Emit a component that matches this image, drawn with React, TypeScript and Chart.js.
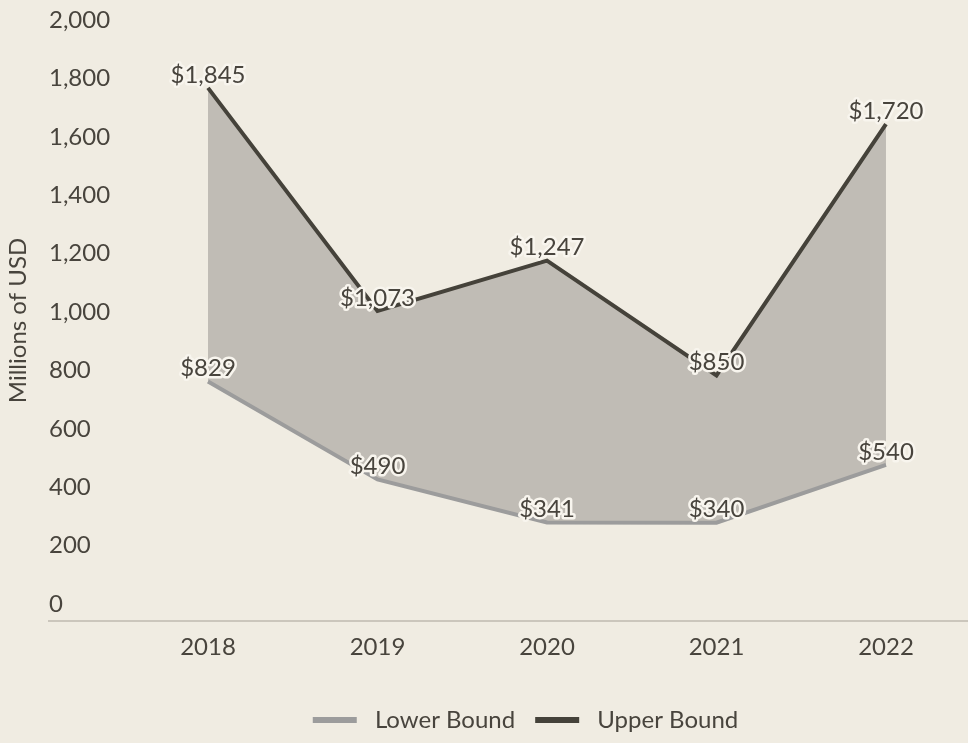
import React, { useEffect, useRef } from 'react';
import { Chart, registerables } from 'chart.js';

Chart.register(...registerables);

const categories = ['2018', '2019', '2020', '2021', '2022'];
const lowerBound = [829, 490, 341, 340, 540];
const upperBound = [1845, 1073, 1247, 850, 1720];
const yTickValues = [0, 200, 400, 600, 800, 1000, 1200, 1400, 1600, 1800, 2000];
const seriesNames = ['Lower Bound', 'Upper Bound'];

const BG = '#f0ece2';
const TEXT = '#48443d';
const LOWER_COLOR = '#9c9c9c';
const UPPER_COLOR = '#45423a';
const FILL_COLOR = '#c0bcb5';
const FONT_FAMILY = 'Lato, sans-serif';
const FONT_SIZE = 24;

const dataLabelPlugin = {
  id: 'dataLabels',
  afterDatasetsDraw(chart: any) {
    const ctx = chart.ctx;
    ctx.save();
    ctx.font = `${FONT_SIZE}px ${FONT_FAMILY}`;
    ctx.textAlign = 'center';
    ctx.textBaseline = 'middle';
    ctx.lineJoin = 'round';
    chart.data.datasets.forEach((ds: any, di: number) => {
      const meta = chart.getDatasetMeta(di);
      meta.data.forEach((pt: any, i: number) => {
        const v = ds.data[i].y;
        const text = '$' + v.toLocaleString('en-US');
        const x = pt.x;
        const y = pt.y - 13;
        ctx.strokeStyle = '#f8f5ee';
        ctx.lineWidth = 5;
        ctx.strokeText(text, x, y);
        ctx.fillStyle = TEXT;
        ctx.fillText(text, x, y);
      });
    });
    ctx.restore();
  },
};

const legendShiftPlugin = {
  id: 'legendShift',
  afterLayout(chart: any) {
    const lg = chart.legend;
    if (lg) {
      lg.left += 42;
      lg.right += 42;
    }
  },
};

export default function App() {
  const canvasRef = useRef<HTMLCanvasElement | null>(null);

  useEffect(() => {
    document.body.style.margin = '0';
    document.body.style.background = BG;
    const canvas = canvasRef.current;
    if (!canvas) return;
    const font = { family: FONT_FAMILY, size: FONT_SIZE };
    const chart = new Chart(canvas, {
      type: 'line',
      data: {
        datasets: [
          {
            label: seriesNames[0],
            data: lowerBound.map((v, i) => ({ x: i, y: v })),
            borderColor: LOWER_COLOR,
            backgroundColor: LOWER_COLOR,
            borderWidth: 4,
            pointRadius: 0,
            fill: false,
            tension: 0,
            xAxisID: 'x',
            yAxisID: 'yData',
          },
          {
            label: seriesNames[1],
            data: upperBound.map((v, i) => ({ x: i, y: v })),
            borderColor: UPPER_COLOR,
            backgroundColor: FILL_COLOR,
            borderWidth: 4,
            pointRadius: 0,
            fill: '-1',
            tension: 0,
            xAxisID: 'x',
            yAxisID: 'yData',
          },
        ],
      },
      options: {
        animation: false,
        responsive: true,
        maintainAspectRatio: false,
        layout: { padding: { top: 20, right: 1, left: 0, bottom: 1 } },
        scales: {
          x: {
            type: 'linear',
            min: -0.938,
            max: 4.478,
            afterBuildTicks: (s: any) => {
              s.ticks = categories.map((_, i) => ({ value: i }));
            },
            ticks: {
              callback: (v: any) => categories[Math.round(Number(v))] ?? '',
              font,
              color: TEXT,
              padding: 12,
              autoSkip: false,
              maxRotation: 0,
            },
            grid: { display: false, drawTicks: false },
            border: { display: true, color: '#cbc6bc', width: 2 },
            afterFit: (s: any) => {
              s.height = 67;
            },
          },
          y: {
            position: 'left',
            min: -58.3,
            max: 2000,
            afterBuildTicks: (s: any) => {
              s.ticks = yTickValues.map((v) => ({ value: v }));
            },
            ticks: {
              mirror: true,
              padding: 0,
              font,
              color: TEXT,
              callback: (v: any) => Number(v).toLocaleString('en-US'),
            },
            grid: { display: false, drawTicks: false },
            border: { display: false },
            title: {
              display: true,
              text: 'Millions of USD',
              font,
              color: TEXT,
              padding: { top: 4, bottom: 0 },
            },
            afterFit: (s: any) => {
              s.width = 49;
            },
          },
          yData: {
            position: 'left',
            display: false,
            min: 0,
            max: 2080,
          },
        },
        plugins: {
          filler: { drawTime: 'beforeDatasetsDraw' },
          tooltip: { enabled: false },
          legend: {
            position: 'bottom',
            labels: {
              boxWidth: 44,
              boxHeight: 6,
              padding: 20,
              font,
              color: TEXT,
              generateLabels: (c: any) =>
                c.data.datasets.map((ds: any, i: number) => ({
                  text: ' ' + ds.label,
                  fillStyle: ds.borderColor,
                  strokeStyle: ds.borderColor,
                  lineWidth: 0,
                  hidden: false,
                  datasetIndex: i,
                  fontColor: TEXT,
                })),
            },
          },
        },
      },
      plugins: [dataLabelPlugin, legendShiftPlugin],
    } as any);
    return () => chart.destroy();
  }, []);

  return (
    <div style={{ width: 968, height: 743, position: 'relative', background: BG }}>
      <canvas ref={canvasRef} />
    </div>
  );
}
